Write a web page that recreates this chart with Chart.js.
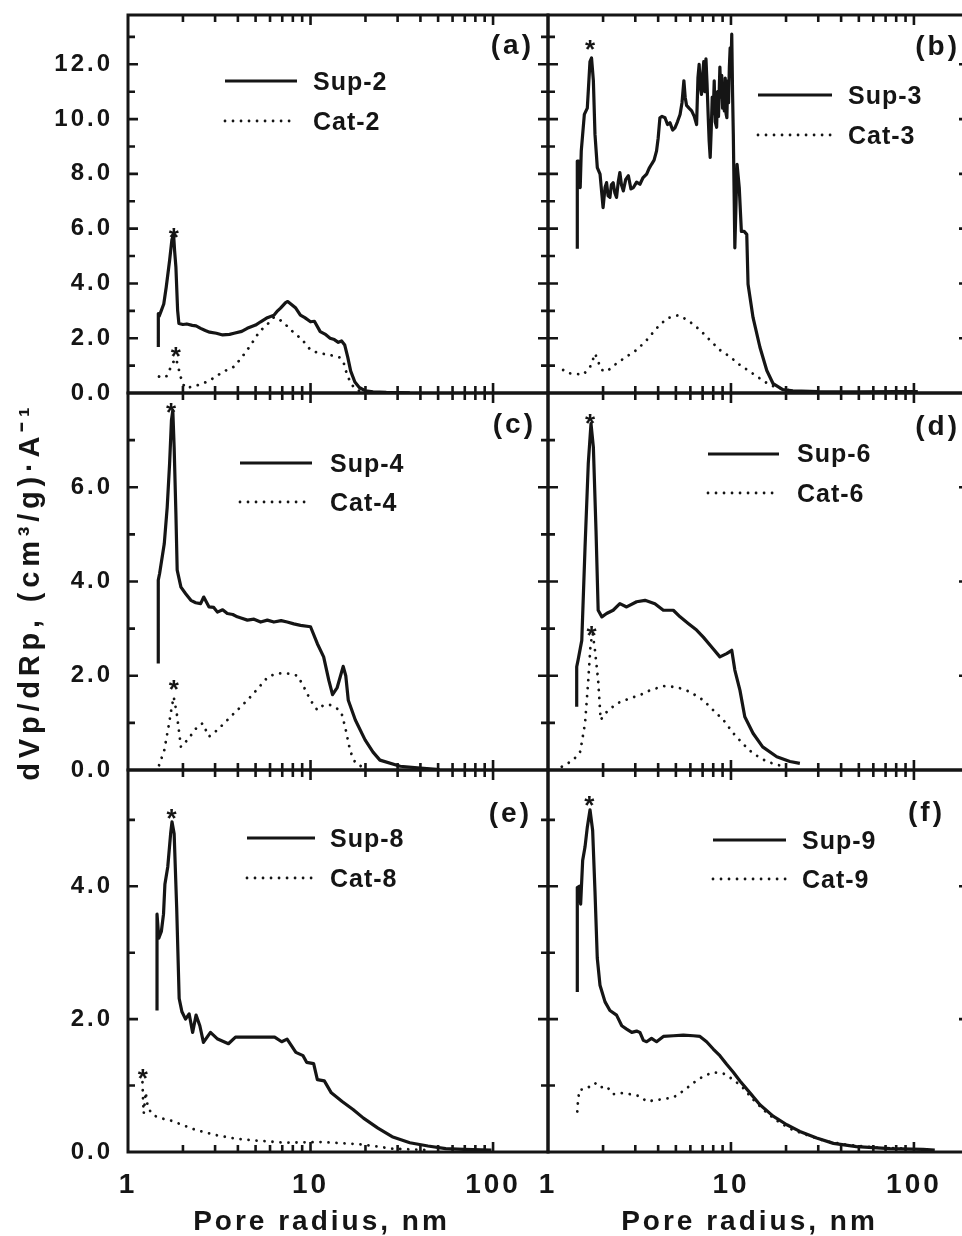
<!DOCTYPE html>
<html>
<head>
<meta charset="utf-8">
<script src="https://cdn.jsdelivr.net/npm/chart.js@4.4.1/dist/chart.umd.min.js"></script>
<style>
html, body { margin: 0; padding: 0; background: #fff; }
body { position: relative; width: 962px; height: 1236px; overflow: hidden; }
canvas { position: absolute; }
</style>
</head>
<body>
<script>
// pore size distributions, [radius nm, dVp/dRp]
const sup2 = [[1.466,1.68],[1.466,2.9],[1.48,2.8],[1.52,3.0],[1.57,3.25],[1.62,3.87],[1.69,4.84],[1.74,5.6],[1.777,5.8],[1.80,5.2],[1.83,4.6],[1.87,3.02],[1.9,2.54],[2.0,2.5],[2.1,2.52],[2.25,2.47],[2.36,2.45],[2.5,2.36],[2.65,2.28],[2.8,2.22],[3.05,2.18],[3.3,2.12],[3.6,2.14],[3.81,2.18],[4.2,2.25],[4.5,2.36],[5.0,2.48],[5.33,2.6],[5.8,2.75],[6.3,2.84],[6.6,3.0],[6.85,3.1],[7.3,3.3],[7.5,3.34],[7.8,3.25],[8.3,3.1],[8.8,2.84],[9.3,2.75],[10.0,2.6],[10.5,2.62],[11.3,2.24],[12.0,2.15],[12.8,2.0],[13.5,1.95],[14.2,1.85],[14.8,1.9],[15.4,1.75],[16.0,1.3],[16.6,0.8],[17.5,0.4],[18.5,0.2],[20,0.08],[22,0.04],[26,0.02],[35,0.01]];
const cat2 = [[1.48,0.6],[1.55,0.55],[1.63,0.62],[1.68,0.8],[1.75,1.08],[1.83,1.26],[1.87,1.05],[1.9,0.85],[1.95,0.55],[1.99,0.35],[2.07,0.18],[2.3,0.24],[2.5,0.32],[2.73,0.42],[3.0,0.58],[3.22,0.72],[3.5,0.85],[3.81,0.96],[4.2,1.3],[4.5,1.57],[4.9,1.93],[5.2,2.2],[5.55,2.4],[6.0,2.6],[6.3,2.77],[6.85,2.65],[7.3,2.5],[7.8,2.3],[8.3,2.15],[8.8,2.0],[9.4,1.8],[10.0,1.57],[10.6,1.5],[11.3,1.45],[12.0,1.42],[12.8,1.38],[13.6,1.35],[14.4,1.3],[15.2,1.1],[15.8,0.7],[16.5,0.4],[17.5,0.15],[19,0.05],[22,0.02]];

const sup3 = [[1.446,5.27],[1.446,8.47],[1.47,8.47],[1.50,7.5],[1.52,8.84],[1.58,10.17],[1.64,10.4],[1.696,12.1],[1.73,12.23],[1.77,11.4],[1.806,9.45],[1.86,8.23],[1.925,7.99],[2.0,6.77],[2.05,7.5],[2.09,7.68],[2.13,7.2],[2.18,7.14],[2.22,7.6],[2.27,7.68],[2.32,7.3],[2.37,7.14],[2.42,7.7],[2.47,8.05],[2.52,7.6],[2.58,7.38],[2.66,7.8],[2.75,7.93],[2.84,7.45],[2.93,7.5],[3.05,7.7],[3.18,7.62],[3.3,7.85],[3.46,7.99],[3.57,8.2],[3.68,8.35],[3.8,8.5],[3.92,8.84],[4.0,9.3],[4.09,10.05],[4.2,10.1],[4.36,10.05],[4.5,9.8],[4.64,9.87],[4.8,9.6],[4.94,9.68],[5.1,9.9],[5.27,10.17],[5.4,10.6],[5.53,11.4],[5.62,10.8],[5.72,10.5],[5.9,10.4],[6.1,10.3],[6.3,10.1],[6.49,9.8],[6.6,11.5],[6.7,12.0],[6.8,11.2],[6.9,10.9],[7.0,11.6],[7.1,12.1],[7.2,11.0],[7.3,12.2],[7.4,11.3],[7.5,10.2],[7.6,9.2],[7.7,8.6],[7.8,9.6],[7.9,10.8],[8.0,10.2],[8.1,11.4],[8.2,9.9],[8.35,9.7],[8.45,11.0],[8.55,10.1],[8.7,11.9],[8.8,10.8],[8.9,11.6],[9.0,10.4],[9.1,11.3],[9.2,10.3],[9.3,11.5],[9.4,10.2],[9.5,10.05],[9.6,11.4],[9.7,10.6],[9.8,11.9],[9.9,12.6],[10.0,11.8],[10.1,13.1],[10.2,11.0],[10.3,9.45],[10.5,5.3],[10.8,8.35],[11.1,7.5],[11.4,5.9],[11.8,5.9],[12.2,5.79],[12.4,3.97],[13.2,2.76],[14.4,1.67],[15.7,0.82],[17.0,0.34],[19.2,0.12],[21.8,0.08],[30,0.05],[50,0.04],[80,0.05],[105,0.05]];
const cat3 = [[1.21,0.84],[1.29,0.72],[1.4,0.7],[1.56,0.67],[1.7,0.96],[1.81,1.44],[1.88,1.14],[1.97,0.84],[2.09,0.78],[2.37,1.08],[2.69,1.33],[3.05,1.57],[3.46,1.93],[3.92,2.36],[4.45,2.72],[5.16,2.84],[5.84,2.65],[6.77,2.3],[7.67,1.93],[8.7,1.57],[9.85,1.33],[11.2,1.02],[12.7,0.78],[14.4,0.53],[16.3,0.29],[18.5,0.17],[21,0.09]];

const sup4 = [[1.465,2.26],[1.465,4.03],[1.49,4.17],[1.58,4.8],[1.64,5.58],[1.69,6.5],[1.73,7.42],[1.76,7.63],[1.79,6.85],[1.83,5.44],[1.86,4.24],[1.95,3.88],[2.07,3.74],[2.21,3.6],[2.35,3.55],[2.5,3.53],[2.6,3.67],[2.78,3.46],[2.95,3.45],[3.09,3.35],[3.3,3.4],[3.5,3.32],[3.75,3.3],[3.97,3.25],[4.2,3.22],[4.51,3.18],[4.9,3.2],[5.33,3.14],[5.8,3.18],[6.3,3.14],[6.9,3.17],[7.45,3.14],[8.1,3.1],[8.82,3.07],[10.0,3.04],[10.9,2.68],[11.8,2.4],[12.6,1.9],[13.2,1.6],[14.0,1.75],[15.1,2.2],[15.6,2.0],[16.1,1.48],[17.6,1.06],[19.9,0.64],[22,0.38],[24,0.21],[31,0.08],[40,0.04],[51,0.01]];
const cat4 = [[1.48,0.1],[1.58,0.42],[1.68,0.99],[1.73,1.3],[1.78,1.55],[1.85,1.2],[1.95,0.49],[2.12,0.64],[2.4,0.92],[2.56,0.99],[2.78,0.71],[3.09,0.85],[3.5,1.06],[3.97,1.27],[4.51,1.48],[5.15,1.73],[5.85,1.98],[6.6,2.05],[7.45,2.05],[8.5,2.0],[9.2,1.76],[10.0,1.48],[10.9,1.27],[11.8,1.38],[12.8,1.38],[14.0,1.3],[14.8,1.2],[15.5,0.9],[16.5,0.4],[17.6,0.15],[19.9,0.03]];

const sup6 = [[1.435,1.34],[1.435,2.19],[1.46,2.33],[1.53,2.75],[1.594,4.73],[1.66,6.5],[1.718,7.35],[1.77,6.85],[1.83,5.08],[1.88,3.39],[1.97,3.25],[2.09,3.32],[2.27,3.39],[2.47,3.53],[2.69,3.46],[3.05,3.57],[3.39,3.6],[3.84,3.53],[4.27,3.39],[4.84,3.39],[5.27,3.25],[5.84,3.11],[6.49,2.97],[7.06,2.82],[7.84,2.61],[8.7,2.4],[9.47,2.47],[10.1,2.54],[10.5,2.12],[11.2,1.69],[11.9,1.13],[13.2,0.78],[14.9,0.49],[17.8,0.28],[21,0.18],[23.8,0.14]];
const cat6 = [[1.19,0.07],[1.375,0.21],[1.5,0.39],[1.594,0.99],[1.66,1.9],[1.71,2.68],[1.755,2.9],[1.806,2.54],[1.88,1.9],[1.94,1.06],[2.05,1.2],[2.37,1.41],[2.8,1.52],[3.18,1.59],[3.61,1.69],[4.27,1.78],[5.04,1.76],[5.97,1.66],[7.06,1.48],[8.0,1.27],[9.1,1.06],[10.3,0.78],[11.6,0.56],[13.2,0.35],[15.7,0.18],[17.8,0.11],[20.2,0.07]];

const sup8 = [[1.442,2.13],[1.442,3.58],[1.475,3.22],[1.523,3.32],[1.565,3.58],[1.593,4.03],[1.651,4.29],[1.712,4.79],[1.742,4.97],[1.79,4.79],[1.848,3.68],[1.907,2.31],[1.975,2.11],[2.066,2.0],[2.162,2.08],[2.26,1.8],[2.36,2.06],[2.475,1.9],[2.59,1.65],[2.83,1.8],[3.10,1.7],[3.55,1.63],[3.88,1.73],[4.64,1.73],[5.56,1.73],[6.36,1.73],[6.95,1.66],[7.44,1.7],[8.31,1.5],[9.1,1.45],[9.52,1.35],[10.4,1.33],[10.9,1.09],[11.9,1.07],[13.0,0.89],[14.9,0.76],[17.1,0.64],[19.5,0.51],[23.4,0.36],[28,0.23],[35,0.14],[44,0.09],[55,0.05],[69,0.04],[98,0.03]];
const cat8 = [[1.2,1.05],[1.21,0.75],[1.22,0.58],[1.25,0.9],[1.28,0.7],[1.32,0.62],[1.38,0.55],[1.51,0.51],[1.73,0.47],[1.975,0.41],[2.36,0.33],[2.96,0.26],[3.7,0.21],[4.64,0.18],[5.81,0.16],[7.28,0.14],[11.4,0.15],[17.9,0.12],[22.3,0.09],[28,0.05],[44,0.03]];

const sup9 = [[1.446,2.41],[1.446,3.98],[1.483,4.0],[1.508,3.73],[1.547,4.39],[1.593,4.59],[1.64,4.89],[1.697,5.15],[1.754,4.84],[1.806,3.93],[1.859,2.92],[1.924,2.51],[2.05,2.26],[2.18,2.13],[2.37,2.06],[2.53,1.9],[2.69,1.85],[2.87,1.8],[3.05,1.82],[3.18,1.8],[3.32,1.68],[3.46,1.66],[3.68,1.71],[3.92,1.66],[4.27,1.74],[4.84,1.75],[5.49,1.76],[6.23,1.75],[6.77,1.74],[7.36,1.66],[8.0,1.55],[8.7,1.45],[9.47,1.32],[10.3,1.2],[11.2,1.07],[12.7,0.89],[14.4,0.71],[17.0,0.54],[20.2,0.41],[23.8,0.31],[29.4,0.21],[36.3,0.13],[48.5,0.08],[74,0.05],[112,0.04],[130,0.03]];
const cat9 = [[1.446,0.61],[1.46,0.79],[1.49,0.94],[1.59,0.94],[1.70,0.99],[1.806,1.04],[1.92,0.97],[2.09,0.99],[2.27,0.87],[2.47,0.89],[2.8,0.87],[3.18,0.84],[3.46,0.76],[4.09,0.79],[4.84,0.82],[5.49,0.92],[6.23,1.04],[7.06,1.14],[8.0,1.2],[9.1,1.18],[10.3,1.09],[11.6,0.97],[13.2,0.79],[15.7,0.59],[18.5,0.44],[21.8,0.33],[25.8,0.26],[33.2,0.16],[42.7,0.11],[59.5,0.07],[90,0.05]];

// asterisks marking the peaks, [radius, value]
const starsA = [[1.78, 5.93], [1.83, 1.56]];
const starsB = [[1.70, 12.78]];
const starsC = [[1.72, 7.73], [1.78, 1.84]];
const starsD = [[1.70, 7.5], [1.73, 3.0]];
const starsE = [[1.73, 5.12], [1.206, 1.2]];
const starsF = [[1.68, 5.32]];

// axes
const xMajor = [1, 10, 100];
const xMinor = [2, 3, 4, 5, 6, 7, 8, 9, 20, 30, 40, 50, 60, 70, 80, 90];
const xTickLabels = ['1', '10', '100'];
const rowMax = [13.8, 8, 5.75];
const rowMajor = [[0, 2, 4, 6, 8, 10, 12], [0, 2, 4, 6], [0, 2, 4]];
const rowMinor = [[1, 3, 5, 7, 9, 11, 13], [1, 3, 5, 7], [1, 3, 5]];
const rowTickLabels = [['0.0', '2.0', '4.0', '6.0', '8.0', '10.0', '12.0'], ['0.0', '2.0', '4.0', '6.0'], ['0.0', '2.0', '4.0']];
const xTitle = 'Pore radius, nm';
const yTitle = 'dVp/dRp, (cm\u00B3/g)\u00B7A\u207B\u00B9';

const INK = '#151515';
const FAMILY = '"Liberation Sans", Arial, Helvetica, sans-serif';

// page geometry of the plot frames
const rowTop = [15, 393, 770];
const rowBottom = [393, 770, 1152];
const colLeft = [128, 548];
const colRight = [548, 969];
const M = 14;

const panels = [
    { tag: '(a)', row: 0, col: 0, sup: sup2, cat: cat2, names: ['Sup-2', 'Cat-2'], stars: starsA,
      legend: { x1: 225, x2: 297, tx: 313, line: [81, 121], text: [83, 123] }, tagPos: [531, 46] },
    { tag: '(b)', row: 0, col: 1, sup: sup3, cat: cat3, names: ['Sup-3', 'Cat-3'], stars: starsB,
      legend: { x1: 758, x2: 832, tx: 848, line: [95, 135], text: [97, 137] }, tagPos: [957, 47] },
    { tag: '(c)', row: 1, col: 0, sup: sup4, cat: cat4, names: ['Sup-4', 'Cat-4'], stars: starsC,
      legend: { x1: 240, x2: 312, tx: 330, line: [463, 502], text: [465, 504] }, tagPos: [533, 425],
      yTitlePos: [31, 594] },
    { tag: '(d)', row: 1, col: 1, sup: sup6, cat: cat6, names: ['Sup-6', 'Cat-6'], stars: starsD,
      legend: { x1: 708, x2: 779, tx: 797, line: [454, 493], text: [455, 495] }, tagPos: [957, 427] },
    { tag: '(e)', row: 2, col: 0, sup: sup8, cat: cat8, names: ['Sup-8', 'Cat-8'], stars: starsE,
      legend: { x1: 247, x2: 315, tx: 330, line: [838, 878], text: [840, 880] }, tagPos: [529, 814],
      xTitlePos: [320, 1222] },
    { tag: '(f)', row: 2, col: 1, sup: sup9, cat: cat9, names: ['Sup-9', 'Cat-9'], stars: starsF,
      legend: { x1: 713, x2: 786, tx: 802, line: [840, 879], text: [842, 881] }, tagPos: [942, 813],
      xTitlePos: [748, 1222] }
];

// y tick labels are drawn letter-spaced, everything after the datasets is not
const spacing = {
    id: 'spacing',
    beforeDraw(chart) { chart.ctx.letterSpacing = '3px'; },
    beforeDatasetsDraw(chart) { chart.ctx.letterSpacing = '0px'; }
};

const decor = {
    id: 'decor',
    afterDraw(chart, args, o) {
        const { ctx, chartArea: a, scales: { x, y } } = chart;
        const [ox, oy] = o.off;
        ctx.save();
        ctx.strokeStyle = INK;
        ctx.fillStyle = INK;

        // inward ticks on all four sides
        ctx.lineWidth = 2.6;
        ctx.lineCap = 'butt';
        ctx.beginPath();
        const xt = xMajor.map(v => [v, 10]).concat(xMinor.map(v => [v, 7]));
        xt.forEach(([v, len]) => {
            const px = x.getPixelForValue(v);
            if (px <= a.left + 1 || px >= a.right - 1) return;
            ctx.moveTo(px, a.bottom); ctx.lineTo(px, a.bottom - len);
            ctx.moveTo(px, a.top); ctx.lineTo(px, a.top + len);
        });
        const yt = o.yMajor.map(v => [v, 10]).concat(o.yMinor.map(v => [v, 7]));
        yt.forEach(([v, len]) => {
            const py = y.getPixelForValue(v);
            if (py <= a.top + 1 || py >= a.bottom - 1) return;
            ctx.moveTo(a.left, py); ctx.lineTo(a.left + len, py);
            ctx.moveTo(a.right, py); ctx.lineTo(a.right - len, py);
        });
        ctx.stroke();

        ctx.lineWidth = 3;
        ctx.strokeRect(a.left, a.top, a.right - a.left, a.bottom - a.top);

        // legend
        const lg = o.legend;
        chart.data.datasets.forEach((ds, i) => {
            ctx.save();
            ctx.lineWidth = ds.borderWidth;
            ctx.setLineDash(ds.borderDash || []);
            ctx.lineCap = ds.borderCapStyle || 'butt';
            ctx.beginPath();
            ctx.moveTo(lg.x1 - ox, lg.line[i] - oy);
            ctx.lineTo(lg.x2 - ox, lg.line[i] - oy);
            ctx.stroke();
            ctx.restore();
            ctx.letterSpacing = '1px';
            ctx.font = 'bold 25px ' + FAMILY;
            ctx.textAlign = 'left';
            ctx.textBaseline = 'middle';
            ctx.fillText(ds.label, lg.tx - ox, lg.text[i] - oy);
        });

        // peak asterisks
        ctx.letterSpacing = '0px';
        ctx.font = 'bold 26px ' + FAMILY;
        ctx.textAlign = 'center';
        ctx.textBaseline = 'alphabetic';
        o.stars.forEach(([sx, sy]) => {
            ctx.fillText('*', x.getPixelForValue(sx), y.getPixelForValue(sy) + 15);
        });

        // panel letter
        ctx.letterSpacing = '3px';
        ctx.font = 'bold 28px ' + FAMILY;
        ctx.textAlign = 'right';
        ctx.textBaseline = 'middle';
        ctx.fillText(o.tag, o.tagPos[0] - ox + 3, o.tagPos[1] - oy);

        // axis titles
        if (o.xTitlePos) {
            ctx.letterSpacing = '3px';
            ctx.font = 'bold 28px ' + FAMILY;
            ctx.textAlign = 'center';
            ctx.textBaseline = 'middle';
            ctx.fillText(xTitle, o.xTitlePos[0] - ox + 1.5, o.xTitlePos[1] - oy);
        }
        if (o.yTitlePos) {
            ctx.save();
            ctx.translate(o.yTitlePos[0] - ox, o.yTitlePos[1] - oy);
            ctx.rotate(-Math.PI / 2);
            ctx.letterSpacing = '4.8px';
            ctx.font = 'bold 29px ' + FAMILY;
            ctx.textAlign = 'center';
            ctx.textBaseline = 'middle';
            ctx.fillText(yTitle, 2.4, 0);
            ctx.restore();
        }
        ctx.restore();
    }
};

function makePanel(p) {
    const r = p.row, c = p.col;
    const left = c === 0 ? 0 : colLeft[1] - M;
    const top = rowTop[r] - M;
    const right = colRight[c] + M;
    const bottom = r === 2 ? 1236 : rowBottom[r] + M;

    const cv = document.createElement('canvas');
    cv.width = right - left;
    cv.height = bottom - top;
    cv.style.left = left + 'px';
    cv.style.top = top + 'px';
    document.body.appendChild(cv);

    const tickFont = size => ({ family: FAMILY, size: size, weight: 'bold', lineHeight: 1 });

    new Chart(cv, {
        type: 'line',
        data: {
            datasets: [
                {
                    label: p.names[0],
                    data: p.sup.map(([x, y]) => ({ x, y })),
                    borderColor: INK,
                    borderWidth: 3.2,
                    borderJoinStyle: 'round',
                    pointRadius: 0,
                    tension: 0
                },
                {
                    label: p.names[1],
                    data: p.cat.map(([x, y]) => ({ x, y })),
                    borderColor: INK,
                    borderWidth: 2.8,
                    borderDash: [0.01, 8],
                    borderCapStyle: 'round',
                    pointRadius: 0,
                    tension: 0
                }
            ]
        },
        options: {
            responsive: false,
            animation: false,
            devicePixelRatio: 1,
            events: [],
            layout: { padding: { left: c === 0 ? 0 : M, right: M, top: M, bottom: r === 2 ? 0 : M } },
            plugins: {
                legend: { display: false },
                tooltip: { enabled: false },
                decor: {
                    off: [left, top],
                    yMajor: rowMajor[r],
                    yMinor: rowMinor[r],
                    legend: p.legend,
                    stars: p.stars,
                    tag: p.tag,
                    tagPos: p.tagPos,
                    xTitlePos: p.xTitlePos || null,
                    yTitlePos: p.yTitlePos || null
                }
            },
            scales: {
                x: {
                    type: 'logarithmic',
                    min: 1,
                    max: 200,
                    display: r === 2,
                    z: 1,
                    grid: { display: false, drawTicks: false },
                    border: { display: false },
                    afterFit: s => {
                        s.height = r === 2 ? 1236 - rowBottom[2] : 0;
                        s.paddingLeft = 0;
                        s.paddingRight = 0;
                    },
                    afterBuildTicks: s => { s.ticks = xMajor.map(v => ({ value: v })); },
                    ticks: {
                        autoSkip: false,
                        maxRotation: 0,
                        padding: 19,
                        color: INK,
                        font: tickFont(28),
                        callback: (v, i) => xTickLabels[i]
                    }
                },
                y: {
                    min: 0,
                    max: rowMax[r],
                    display: c === 0,
                    grid: { display: false, drawTicks: false },
                    border: { display: false },
                    afterFit: s => {
                        s.width = c === 0 ? colLeft[0] : 0;
                        s.paddingTop = 0;
                        s.paddingBottom = 0;
                    },
                    afterBuildTicks: s => { s.ticks = rowMajor[r].map(v => ({ value: v })); },
                    ticks: {
                        padding: 15,
                        color: INK,
                        font: tickFont(24),
                        callback: (v, i) => rowTickLabels[r][i]
                    }
                }
            }
        },
        plugins: [spacing, decor]
    });
}

panels.forEach(makePanel);
</script>
</body>
</html>
